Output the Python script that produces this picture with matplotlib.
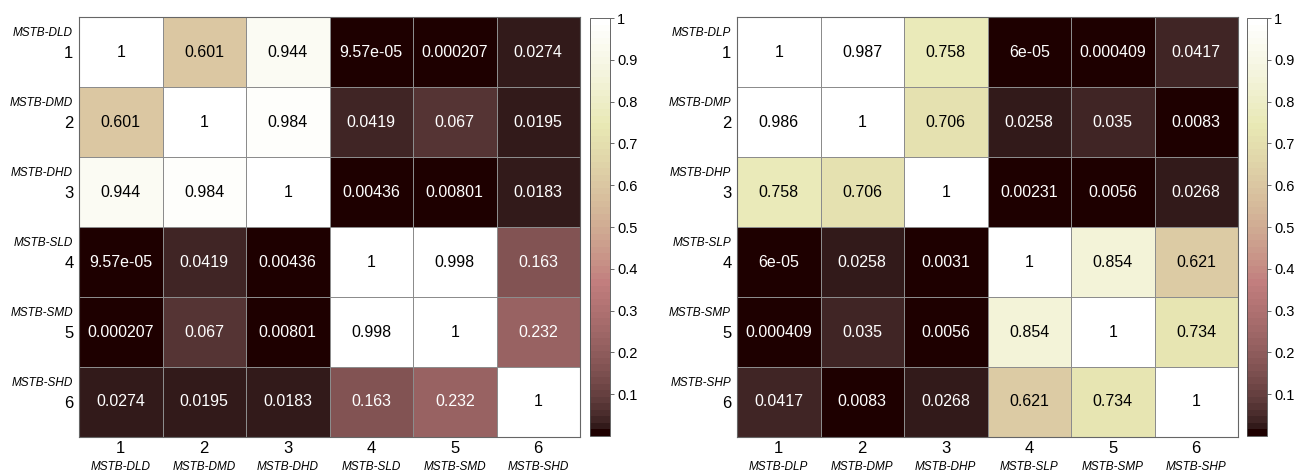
import numpy as np
import matplotlib
matplotlib.use("Agg")
import matplotlib.pyplot as plt
import matplotlib.transforms as mtransforms

plt.rcParams['font.family'] = ['Liberation Sans', 'DejaVu Sans']

# data
idx = [1, 2, 3, 4, 5, 6]
left_names = ['MSTB-DLD', 'MSTB-DMD', 'MSTB-DHD', 'MSTB-SLD', 'MSTB-SMD', 'MSTB-SHD']
right_names = ['MSTB-DLP', 'MSTB-DMP', 'MSTB-DHP', 'MSTB-SLP', 'MSTB-SMP', 'MSTB-SHP']

left_vals = np.array([
    [1, 0.601, 0.944, 9.57e-05, 0.000207, 0.0274],
    [0.601, 1, 0.984, 0.0419, 0.067, 0.0195],
    [0.944, 0.984, 1, 0.00436, 0.00801, 0.0183],
    [9.57e-05, 0.0419, 0.00436, 1, 0.998, 0.163],
    [0.000207, 0.067, 0.00801, 0.998, 1, 0.232],
    [0.0274, 0.0195, 0.0183, 0.163, 0.232, 1],
])
right_vals = np.array([
    [1, 0.987, 0.758, 6e-05, 0.000409, 0.0417],
    [0.986, 1, 0.706, 0.0258, 0.035, 0.0083],
    [0.758, 0.706, 1, 0.00231, 0.0056, 0.0268],
    [6e-05, 0.0258, 0.0031, 1, 0.854, 0.621],
    [0.000409, 0.035, 0.0056, 0.854, 1, 0.734],
    [0.0417, 0.0083, 0.0268, 0.621, 0.734, 1],
])
cbar_ticks = [0.1, 0.2, 0.3, 0.4, 0.5, 0.6, 0.7, 0.8, 0.9, 1]

cmap = plt.get_cmap('pink', 64)

fig = plt.figure(figsize=(12.96, 4.75), dpi=100)


def draw(ax_rect, cb_rect, vals, names):
    ax = fig.add_axes(ax_rect)
    cax = fig.add_axes(cb_rect)
    n = len(idx)
    vmin, vmax = vals.min(), vals.max()
    mesh = ax.pcolormesh(np.arange(n + 1) + 0.5, np.arange(n + 1) + 0.5, vals,
                         cmap=cmap, vmin=vmin, vmax=vmax,
                         edgecolor='0.55', linewidth=0.6)
    ax.set_xlim(0.5, n + 0.5)
    ax.set_ylim(n + 0.5, 0.5)
    for i in range(n):
        for j in range(n):
            v = vals[i, j]
            ax.text(j + 1, i + 1, f"{v:.3g}", ha='center', va='center',
                    fontsize=11.5, color='white' if v < 0.5 else 'black')
    ax.set_xticks(idx)
    ax.set_yticks(idx)
    ax.set_xticklabels([str(k) for k in idx], fontsize=12)
    ax.set_yticklabels([str(k) for k in idx], fontsize=12)
    ax.tick_params(length=0, pad=4)
    ax.tick_params(axis='x', pad=3)
    for s in ax.spines.values():
        s.set_color('0.4')
        s.set_linewidth(0.8)

    # italic name labels under x numbers and above y numbers
    xt = mtransforms.blended_transform_factory(ax.transData, ax.transAxes)
    for k, nm in zip(idx, names):
        ax.text(k, -0.058, nm, transform=xt, ha='center', va='top',
                fontsize=8.5, style='italic')
    yt = mtransforms.blended_transform_factory(ax.transAxes, ax.transData)
    for k, nm in zip(idx, names):
        ax.text(-0.012, k - 0.27, nm, transform=yt, ha='right', va='center',
                fontsize=8.5, style='italic')

    cb = fig.colorbar(mesh, cax=cax)
    cb.set_ticks(cbar_ticks)
    cb.set_ticklabels([f"{t:g}" for t in cbar_ticks])
    cb.ax.tick_params(labelsize=10.5, length=3, width=0.6, pad=2,
                      direction='out', color='0.3')
    cb.outline.set_linewidth(0.6)
    cb.outline.set_edgecolor('0.3')
    return ax


draw([79 / 1296, 38 / 475, 501 / 1296, 420 / 475],
     [590 / 1296, 39 / 475, 20 / 1296, 418 / 475], left_vals, left_names)
draw([737 / 1296, 38 / 475, 501 / 1296, 420 / 475],
     [1247 / 1296, 39 / 475, 20 / 1296, 418 / 475], right_vals, right_names)

fig.savefig('out.png', dpi=100, facecolor='white')
